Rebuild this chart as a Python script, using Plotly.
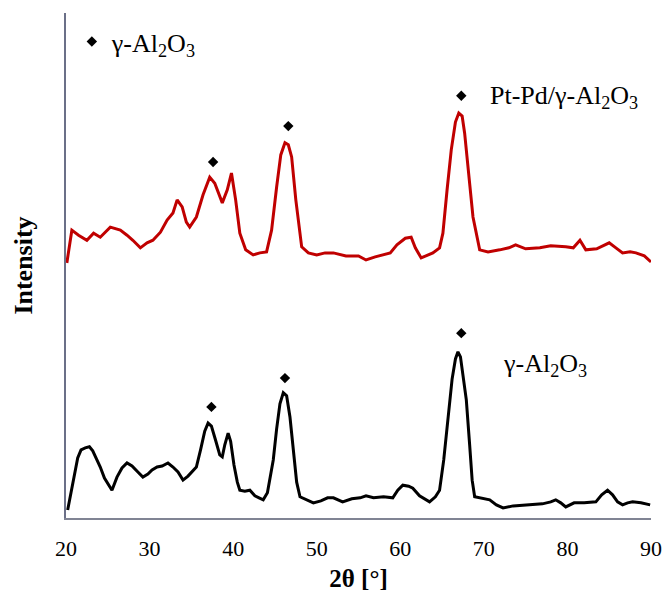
import plotly.graph_objects as go

# --- data (intensity in arbitrary units, offset patterns) ---
black_x = [20.2, 20.8, 21.4, 21.8, 22.3, 22.8, 23.2, 23.7, 24.1, 24.6, 25.0, 25.5, 26.1, 26.7, 27.3, 27.9,
           28.6, 29.2, 29.8, 30.3, 30.9, 31.5, 32.2, 32.8, 33.4, 34.0, 34.6, 35.2, 35.6, 36.1, 36.6, 37.0,
           37.4, 37.9, 38.4, 38.7, 39.0, 39.4, 39.7, 40.1, 40.5, 40.8, 41.4, 42.0, 42.6, 43.1, 43.6, 44.1,
           44.5, 44.8, 45.2, 45.6, 46.0, 46.4, 46.8, 47.2, 47.6, 48.0, 48.6, 49.6, 50.5, 51.3, 52.0, 53.1,
           54.2, 55.2, 55.9, 56.8, 58.0, 59.1, 59.7, 60.3, 61.0, 61.5, 62.3, 63.0, 63.5, 64.2, 64.7, 65.2,
           65.7, 66.2, 66.6, 66.9, 67.2, 67.6, 67.9, 68.3, 68.6, 68.9, 69.5, 70.2, 70.7, 71.5, 72.3, 73.5,
           75.0, 75.9, 77.0, 78.0, 78.6, 79.2, 79.8, 80.8, 82.0, 83.4, 84.1, 84.8, 85.4, 86.0, 86.6, 87.2,
           87.8, 88.8, 89.9]
black_y = [1.6, 6.5, 11.9, 13.5, 13.9, 14.1, 13.3, 11.5, 10.1, 7.9, 6.7, 5.5, 8.1, 9.9, 10.9, 10.3,
           9.1, 8.1, 8.7, 9.5, 10.1, 10.3, 10.9, 10.1, 9.1, 7.5, 8.3, 9.5, 10.1, 13.5, 17.2, 18.8,
           18.2, 15.4, 12.5, 12.1, 14.5, 16.8, 15.2, 10.5, 7.1, 5.5, 5.3, 5.5, 4.4, 4.0, 3.6, 5.0,
           8.9, 11.5, 17.6, 22.6, 24.8, 24.2, 20.0, 13.5, 7.1, 4.2, 3.8, 3.0, 3.4, 4.0, 4.0, 3.2,
           3.8, 4.0, 4.4, 4.0, 4.2, 4.0, 5.5, 6.5, 6.3, 5.9, 4.4, 3.6, 3.2, 4.2, 5.5, 11.5,
           20.0, 27.5, 31.5, 32.9, 31.9, 27.5, 23.4, 14.5, 7.5, 4.2, 4.0, 3.8, 3.6, 2.6, 2.0, 2.4,
           2.6, 2.6, 2.8, 3.2, 3.6, 3.0, 2.2, 3.0, 3.0, 3.2, 4.6, 5.5, 4.6, 3.2, 2.6, 3.0,
           3.2, 3.0, 2.6]

red_x = [20.1, 20.7, 21.5, 22.5, 23.3, 24.1, 25.3, 26.5, 27.3, 28.0, 28.9, 29.7, 30.4, 31.3, 32.1, 32.8,
         33.3, 33.9, 34.4, 34.8, 35.6, 36.4, 37.2, 37.8, 38.7, 39.3, 39.8, 40.3, 40.8, 41.5, 42.4, 43.2,
         44.0, 44.6, 45.2, 45.7, 46.2, 46.6, 47.0, 47.5, 48.2, 49.0, 50.0, 51.0, 52.0, 53.5, 55.0, 55.9,
         57.0, 58.8, 59.6, 60.6, 61.3, 61.8, 62.5, 63.9, 64.7, 65.1, 65.6, 66.1, 66.6, 67.0, 67.4, 67.7,
         68.2, 68.7, 69.5, 70.5, 71.9, 73.0, 73.8, 75.0, 76.7, 78.0, 79.8, 80.7, 81.5, 82.2, 83.5, 84.4,
         85.0, 85.8, 86.6, 87.5, 88.2, 89.2, 90.0]
red_y = [50.5, 57.0, 56.0, 55.0, 56.4, 55.6, 57.6, 57.0, 56.0, 55.0, 53.5, 54.5, 55.0, 56.6, 59.0, 60.4,
         63.0, 61.6, 58.6, 57.6, 59.6, 64.0, 67.5, 66.3, 62.4, 65.0, 68.3, 63.0, 56.4, 53.1, 52.1, 52.5,
         52.7, 57.0, 65.5, 71.9, 74.3, 73.9, 71.5, 63.0, 53.7, 52.5, 52.1, 52.5, 52.5, 51.9, 51.9, 51.1,
         51.7, 52.5, 54.1, 55.4, 55.6, 53.5, 51.5, 52.5, 53.5, 56.4, 65.0, 72.9, 78.4, 80.2, 79.6, 76.2,
         67.9, 59.6, 53.1, 52.7, 53.1, 53.5, 54.1, 53.3, 53.5, 53.9, 53.7, 53.5, 55.0, 53.1, 53.3, 54.1,
         54.5, 53.5, 52.5, 52.7, 52.5, 51.9, 50.7]

peak_x = [37.4, 46.2, 67.3, 37.6, 46.6, 67.3]
peak_y = [22.0, 27.7, 36.6, 70.5, 77.6, 83.6]

x_ticks = [20, 30, 40, 50, 60, 70, 80, 90]

SERIF = "Liberation Serif, Times New Roman, serif"

fig = go.Figure()
fig.add_trace(go.Scatter(x=red_x, y=red_y, mode="lines", line=dict(color="#c00000", width=3),
                         showlegend=False, hoverinfo="skip"))
fig.add_trace(go.Scatter(x=black_x, y=black_y, mode="lines", line=dict(color="black", width=3),
                         showlegend=False, hoverinfo="skip"))
fig.add_trace(go.Scatter(x=peak_x, y=peak_y, mode="markers", name="γ-Al<sub>2</sub>O<sub>3</sub>",
                         marker=dict(symbol="diamond", size=8, color="black"), showlegend=True))

fig.add_annotation(x=70.5, y=83.4, text="Pt-Pd/γ-Al<sub>2</sub>O<sub>3</sub>", showarrow=False,
                   xanchor="left", yanchor="middle", font=dict(family=SERIF, size=26, color="black"))
fig.add_annotation(x=72.0, y=30.3, text="γ-Al<sub>2</sub>O<sub>3</sub>", showarrow=False,
                   xanchor="left", yanchor="middle", font=dict(family=SERIF, size=26, color="black"))

fig.update_layout(
    width=666, height=592,
    margin=dict(l=66, r=15, t=13, b=74),
    paper_bgcolor="white", plot_bgcolor="white",
    font=dict(family=SERIF, size=22, color="black"),
    legend=dict(x=0.01, y=0.99, xanchor="left", yanchor="top", bgcolor="rgba(0,0,0,0)",
                font=dict(family=SERIF, size=26, color="black")),
    xaxis=dict(range=[20, 90], tickvals=x_ticks, showgrid=False, zeroline=False,
               showline=True, linecolor="#808494", linewidth=1.5,
               ticks="outside", ticklen=10, tickcolor="rgba(0,0,0,0)",
               ticklabeloverflow="allow",
               tickfont=dict(family=SERIF, size=22, color="black"),
               title=dict(text="<b>2θ [°]</b>", font=dict(family=SERIF, size=25, color="black"), standoff=15),
               automargin=False),
    yaxis=dict(range=[0, 100], showticklabels=False, showgrid=False, zeroline=False,
               showline=True, linecolor="#6b7088", linewidth=1.5, ticks="",
               title=dict(text="<b>Intensity</b>", font=dict(family=SERIF, size=26, color="black"), standoff=24),
               automargin=False),
)

fig.write_html("out.html", config={"displayModeBar": False},
               post_script="document.body.style.margin='0px';document.body.style.overflow='hidden';")
